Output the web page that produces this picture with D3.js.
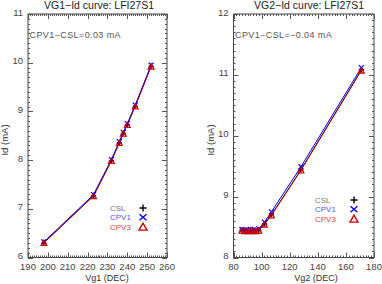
<!DOCTYPE html>
<html>
<head>
<meta charset="utf-8">
<script src="https://cdn.jsdelivr.net/npm/d3@7"></script>
<style>
  body { margin: 0; background: #fff; }
  svg { display: block; font-family: "Liberation Sans", Arial, sans-serif; }
</style>
</head>
<body>
<svg width="382" height="284"></svg>
<script>
// left panel: VG1 sweep
var vg1 = [198, 223, 232, 236, 238, 240, 244, 252];
var id1CSL = [6.30, 7.27, 7.99, 8.36, 8.55, 8.73, 9.11, 9.93];
var id1CPV1 = [6.32, 7.29, 8.01, 8.38, 8.57, 8.75, 9.13, 9.95];
var id1CPV3 = [6.30, 7.26, 7.98, 8.35, 8.54, 8.72, 9.10, 9.92];

// right panel: VG2 sweep
var vg2 = [86, 88, 90, 92, 94, 96, 98, 102, 107, 128, 171];
var id2CSL = [8.45, 8.44, 8.44, 8.45, 8.44, 8.44, 8.45, 8.55, 8.70, 9.44, 11.08];
var id2CPV1 = [8.46, 8.45, 8.45, 8.46, 8.45, 8.45, 8.47, 8.58, 8.75, 9.49, 11.12];
var id2CPV3 = [8.44, 8.43, 8.43, 8.44, 8.43, 8.43, 8.44, 8.54, 8.69, 9.43, 11.07];

var seriesNames = ['CSL', 'CPV1', 'CPV3'];
var seriesColors = ['#000000', '#0000ff', '#cc0000'];
var textColors = ['#777777', '#5555ff', '#dd4444'];

var svg = d3.select('svg');

function panel(opt) {
  var x = d3.scaleLinear().domain(opt.xd).range([opt.x0, opt.x1]);
  var y = d3.scaleLinear().domain(opt.yd).range([opt.y0, opt.y1]);
  var g = svg.append('g');

  // frame
  g.append('rect')
    .attr('x', opt.x0).attr('y', opt.y1)
    .attr('width', opt.x1 - opt.x0).attr('height', opt.y0 - opt.y1)
    .attr('fill', 'none').attr('stroke', '#444').attr('stroke-width', 1);

  // ticks on all four sides, pointing inward
  var xMinor = d3.range(opt.xd[0], opt.xd[1] + 1e-6, opt.xMinorStep);
  var yMinor = d3.range(opt.yd[0], opt.yd[1] + 1e-6, opt.yMinorStep);
  var xMajor = d3.range(opt.xd[0], opt.xd[1] + 1e-6, opt.xMajorStep);
  var yMajor = d3.range(opt.yd[0], opt.yd[1] + 1e-6, 1);

  function xticks(vals, len) {
    vals.forEach(function (v) {
      var px = Math.round(x(v)) + 0.5;
      g.append('line').attr('x1', px).attr('x2', px).attr('y1', opt.y0).attr('y2', opt.y0 - len).attr('stroke', '#555');
      g.append('line').attr('x1', px).attr('x2', px).attr('y1', opt.y1).attr('y2', opt.y1 + len).attr('stroke', '#555');
    });
  }
  function yticks(vals, len) {
    vals.forEach(function (v) {
      var py = Math.round(y(v)) + 0.5;
      g.append('line').attr('x1', opt.x0).attr('x2', opt.x0 + len).attr('y1', py).attr('y2', py).attr('stroke', '#555');
      g.append('line').attr('x1', opt.x1).attr('x2', opt.x1 - len).attr('y1', py).attr('y2', py).attr('stroke', '#555');
    });
  }
  xticks(xMinor, 2);
  yticks(yMinor, 2);
  xticks(xMajor, 5);
  yticks(yMajor, 5);

  // tick labels
  g.selectAll('.xl').data(xMajor).enter().append('text')
    .attr('x', function (d) { return x(d); })
    .attr('y', opt.y0 + 12)
    .attr('text-anchor', 'middle')
    .attr('font-size', 9.5).attr('fill', '#444')
    .text(function (d) { return d; });
  g.selectAll('.yl').data(yMajor).enter().append('text')
    .attr('x', opt.x0 - 5)
    .attr('y', function (d) { return y(d) + 1.5; })
    .attr('text-anchor', 'end')
    .attr('font-size', 9.5).attr('fill', '#444')
    .text(function (d) { return d; });

  // titles
  g.append('text').attr('x', opt.titleX).attr('y', 9)
    .attr('text-anchor', 'middle').attr('font-size', 10.5).attr('fill', '#222')
    .text(opt.title);
  g.append('text').attr('x', opt.xLabelX).attr('y', 281)
    .attr('text-anchor', 'middle').attr('font-size', 9).attr('fill', '#333')
    .text(opt.xLabel);
  g.append('text')
    .attr('transform', 'translate(' + opt.yLabelX + ',140) rotate(-90)')
    .attr('text-anchor', 'middle').attr('font-size', 9.5).attr('fill', '#333')
    .text('Id (mA)');
  g.append('text').attr('x', opt.x0 + 1.5).attr('y', 37.5)
    .attr('font-size', 9).attr('letter-spacing', 0.4).attr('fill', '#555')
    .text(opt.note);

  // series
  var line = d3.line()
    .x(function (d) { return x(d[0]); })
    .y(function (d) { return y(d[1]); });
  var sets = opt.series.map(function (s) {
    return opt.xs.map(function (v, i) { return [v, s[i]]; });
  });

  sets.forEach(function (pts, k) {
    g.append('path').datum(pts).attr('d', line)
      .attr('fill', 'none').attr('stroke', seriesColors[k])
      .attr('stroke-width', 1)
      .attr('stroke-opacity', k == 2 ? 0.8 : 1);
  });

  // markers
  sets[0].forEach(function (d) {
    var cx = x(d[0]), cy = y(d[1]);
    g.append('path').attr('d', 'M' + (cx - 2.5) + ',' + cy + 'H' + (cx + 2.5) + 'M' + cx + ',' + (cy - 2.5) + 'V' + (cy + 2.5))
      .attr('stroke', '#000').attr('stroke-width', 1.1);
  });
  sets[1].forEach(function (d) {
    var cx = x(d[0]), cy = y(d[1]);
    g.append('path').attr('d', 'M' + (cx - 2.5) + ',' + (cy - 2.5) + 'L' + (cx + 2.5) + ',' + (cy + 2.5) + 'M' + (cx - 2.5) + ',' + (cy + 2.5) + 'L' + (cx + 2.5) + ',' + (cy - 2.5))
      .attr('stroke', '#0000ff').attr('stroke-width', 1.2);
  });
  sets[2].forEach(function (d) {
    var cx = x(d[0]), cy = y(d[1]);
    g.append('path').attr('d', 'M' + (cx - 3) + ',' + (cy + 2.5) + 'L' + cx + ',' + (cy - 3) + 'L' + (cx + 3) + ',' + (cy + 2.5) + 'Z')
      .attr('fill', 'rgba(204,0,0,0.35)').attr('stroke', '#cc0000').attr('stroke-width', 1.1);
  });

  // legend
  seriesNames.forEach(function (n, k) {
    var ly = opt.legY + k * 9.3;
    g.append('text').attr('x', opt.legX).attr('y', ly + 3)
      .attr('font-size', 8).attr('fill', textColors[k]).text(n);
    var sx = opt.legSymX;
    var p;
    if (k == 0) p = 'M' + (sx - 3.5) + ',' + ly + 'H' + (sx + 3.5) + 'M' + sx + ',' + (ly - 3.5) + 'V' + (ly + 3.5);
    if (k == 1) p = 'M' + (sx - 3.5) + ',' + (ly - 3) + 'L' + (sx + 3.5) + ',' + (ly + 3) + 'M' + (sx - 3.5) + ',' + (ly + 3) + 'L' + (sx + 3.5) + ',' + (ly - 3);
    if (k == 2) p = 'M' + (sx - 4) + ',' + (ly + 3.5) + 'L' + sx + ',' + (ly - 3.5) + 'L' + (sx + 4) + ',' + (ly + 3.5) + 'Z';
    g.append('path').attr('d', p).attr('fill', 'none')
      .attr('stroke', seriesColors[k]).attr('stroke-width', 1.4);
  });
}

panel({
  xd: [190, 260], yd: [6, 11],
  x0: 28, x1: 167, y0: 257.5, y1: 14,
  xMajorStep: 10, xMinorStep: 1, yMinorStep: 0.1,
  xs: vg1, series: [id1CSL, id1CPV1, id1CPV3],
  title: 'VG1\u2212Id curve: LFI27S1', titleX: 99,
  xLabelX: 107, xLabel: 'Vg1 (DEC)', yLabelX: 8,
  note: 'CPV1\u2212CSL=0.03 mA',
  legX: 110, legY: 208, legSymX: 143
});

panel({
  xd: [80, 180], yd: [8, 12],
  x0: 233.5, x1: 374, y0: 257.5, y1: 14,
  xMajorStep: 20, xMinorStep: 2, yMinorStep: 0.1,
  xs: vg2, series: [id2CSL, id2CPV1, id2CPV3],
  title: 'VG2\u2212Id curve: LFI27S1', titleX: 309,
  xLabelX: 316, xLabel: 'Vg2 (DEC)', yLabelX: 214,
  note: 'CPV1\u2212CSL=\u22120.04 mA',
  legX: 315, legY: 200, legSymX: 354
});
</script>
</body>
</html>
